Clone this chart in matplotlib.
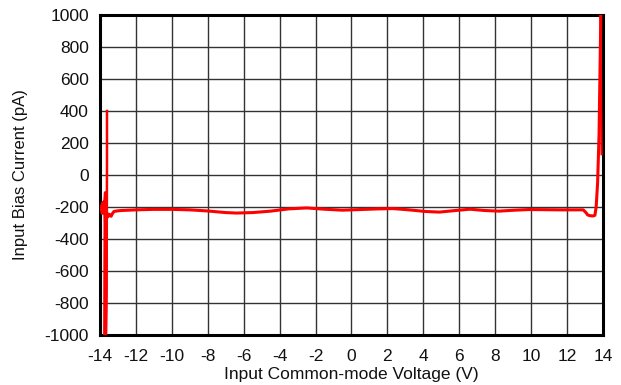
import matplotlib
matplotlib.use("Agg")
import matplotlib.pyplot as plt

plt.rcParams['font.family'] = ['Liberation Sans', 'DejaVu Sans']
plt.rcParams['axes.unicode_minus'] = False

# Main sweep trace (V, pA)
v_main = [-13.74, -13.73, -13.72, -13.74, -13.82, -13.90, -13.92, -13.88, -13.80, -13.74,
          -13.70, -13.66, -13.62, -13.56, -13.50, -13.44, -13.38, -13.30, -13.22, -13.12,
          -13.0, -12.8, -12.0, -11.0, -10.0, -9.0, -8.0, -7.0, -6.4, -5.5, -4.5, -3.5,
          -2.5, -1.5, -0.5, 0.5, 1.5, 2.3, 3.2, 4.1, 4.9, 5.8, 6.6, 7.4, 8.2, 9.1, 9.9,
          10.8, 11.6, 12.4, 12.9, 13.05, 13.15, 13.3, 13.45, 13.55, 13.62, 13.70, 13.78,
          13.84, 13.88]
i_main = [-1000, -600, -300, -200, -170, -190, -215, -240, -230, -170,
          -110, -180, -250, -262, -245, -250, -258, -240, -228, -226,
          -224, -222, -218, -215, -215, -218, -225, -235, -238, -235, -226, -212,
          -206, -214, -220, -216, -212, -210, -218, -228, -232, -222, -214, -222, -226, -220, -216,
          -217, -218, -218, -218, -235, -250, -255, -256, -252, -200, -50, 250,
          700, 1000]

# Fast excursions at the rails
v_spk_l = [-13.66, -13.63, -13.62, -13.61, -13.61]
i_spk_l = [-1000, -730, -300, 100, 400]
v_spk_l2 = [-13.70, -13.68, -13.66, -13.64]
i_spk_l2 = [-1000, -800, -500, -250]
v_spk_r = [13.86, 13.88, 13.90, 13.92]
i_spk_r = [1000, 700, 400, 130]

xticks = list(range(-14, 15, 2))
yticks = list(range(-1000, 1001, 200))

fig = plt.figure(figsize=(6.21, 3.85), dpi=100)
ax = fig.add_axes([0.161, 0.130, 0.810, 0.831])

ax.plot(v_main, i_main, color='#ff0000', lw=2.2, solid_joinstyle='round', zorder=3)
ax.plot(v_spk_l, i_spk_l, color='#ff0000', lw=1.8, zorder=3)
ax.plot(v_spk_l2, i_spk_l2, color='#ff0000', lw=2.2, zorder=3)
ax.plot(v_spk_r, i_spk_r, color='#ff0000', lw=1.6, zorder=3)

ax.set_xlim(-14, 14)
ax.set_ylim(-1000, 1000)
ax.set_xticks(xticks)
ax.set_yticks(yticks)
ax.grid(True, color='#333333', lw=1.0)
ax.set_axisbelow(True)
ax.tick_params(length=0, labelsize=12.5, colors='#111111')
ax.tick_params(axis='y', pad=8)
ax.tick_params(axis='x', pad=10)
for s in ax.spines.values():
    s.set_linewidth(2.2)
    s.set_color('black')

ax.set_xlabel('Input Common-mode Voltage (V)', fontsize=12.5, labelpad=2, color='#111111')
ax.set_ylabel('Input Bias Current (pA)', fontsize=12, labelpad=12, color='#111111')

fig.savefig('out.png', dpi=100)
